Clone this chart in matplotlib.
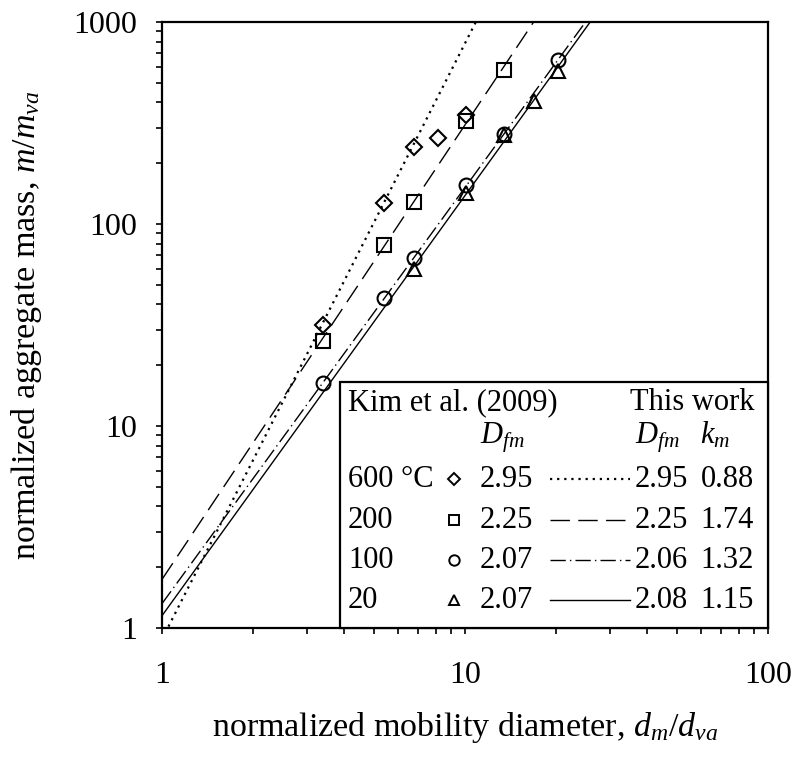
import numpy as np
import matplotlib
matplotlib.use('Agg')
import matplotlib.pyplot as plt
from matplotlib.lines import Line2D
from matplotlib.patches import Rectangle
from matplotlib.ticker import FuncFormatter, NullFormatter

plt.rcParams['font.family'] = 'Liberation Serif'
plt.rcParams['mathtext.fontset'] = 'custom'
plt.rcParams['mathtext.rm'] = 'Liberation Serif'
plt.rcParams['mathtext.it'] = 'Liberation Serif:italic'

# Kim et al. (2009) data
d_600 = [3.39, 5.42, 6.78, 8.13, 10.1]
m_600 = [31.5, 127, 240, 268, 345]
d_200 = [3.39, 5.42, 6.78, 10.1, 13.5]
m_200 = [26.5, 79, 129, 325, 580]
d_100 = [3.39, 5.42, 6.78, 10.1, 13.5, 20.3]
m_100 = [16.3, 42.8, 68, 156, 280, 650]
d_20 = [6.78, 10.1, 13.5, 16.9, 20.3]
m_20 = [60, 142, 275, 405, 575]

temps = ['600 °C', '200', '100', '20']
kim_dfm = ['2.95', '2.25', '2.07', '2.07']
fit_dfm = [2.95, 2.25, 2.06, 2.08]
fit_km = [0.88, 1.74, 1.32, 1.15]

markers = ['D', 's', 'o', '^']
msizes = [8, 9.5, 10, 10.5]
styles = [(0, (1, 2.2)), (0, (14, 6)), (0, (11, 3, 1, 3)), '-']
widths = [1.6, 1.0, 1.0, 1.0]

fig = plt.figure(figsize=(8, 7.65), dpi=100)
ax = fig.add_axes([162 / 800, 137 / 765, 606 / 800, 606 / 765])

d = np.logspace(0, 2, 400)
for D, k, ls, lw in zip(fit_dfm, fit_km, styles, widths):
    ax.plot(d, k * d ** D, color='black', linestyle=ls, linewidth=lw)

data = [(d_600, m_600), (d_200, m_200), (d_100, m_100), (d_20, m_20)]
for (xs, ys), mk, ms in zip(data, markers, msizes):
    ax.plot(xs, ys, linestyle='none', marker=mk, markersize=ms,
            markerfacecolor='none', markeredgecolor='black', markeredgewidth=1.5)

ax.set_xscale('log')
ax.set_yscale('log')
ax.set_xlim(1, 100)
ax.set_ylim(1, 1000)
fmt = FuncFormatter(lambda v, p: '%g' % v)
ax.xaxis.set_major_formatter(fmt)
ax.yaxis.set_major_formatter(fmt)
ax.xaxis.set_minor_formatter(NullFormatter())
ax.yaxis.set_minor_formatter(NullFormatter())
ax.tick_params(which='both', direction='out', labelsize=23, width=1.2, length=4)
ax.tick_params(axis='x', which='major', pad=20)
ax.tick_params(axis='y', which='major', pad=14)
for s in ax.spines.values():
    s.set_linewidth(1.6)

ax.set_xlabel('normalized mobility diameter, $d_m/d_{va}$', fontsize=24.5, labelpad=14)
ax.set_ylabel('normalized aggregate mass, $m/m_{va}$', fontsize=24.5, labelpad=21)

# table-style legend, laid out in pixel positions
W, H = 800, 765
def P(x, y):
    return x / W, 1 - y / H

box = Rectangle(P(340, 628), 428 / W, 246 / H, transform=fig.transFigure,
                facecolor='white', edgecolor='black', linewidth=1.6, zorder=5)
fig.add_artist(box)

fs = 22
fig.text(*P(348, 410), 'Kim et al. (2009)', fontsize=fs, va='baseline', zorder=6)
fig.text(*P(754, 410), 'This work', fontsize=fs, va='baseline', ha='right', zorder=6)
fig.text(*P(480, 443), '$D_{fm}$', fontsize=fs, va='baseline', zorder=6)
fig.text(*P(635, 443), '$D_{fm}$', fontsize=fs, va='baseline', zorder=6)
fig.text(*P(700, 443), '$k_m$', fontsize=fs, va='baseline', zorder=6)

rows = [487, 528, 568, 608]
for i, y in enumerate(rows):
    fig.text(*P(348, y), temps[i], fontsize=fs, va='baseline', zorder=6)
    fig.add_artist(Line2D([454 / W], [1 - (y - 8) / H], transform=fig.transFigure,
                          marker=markers[i], markersize=6.5 if markers[i] == 'D' else 7.5,
                          markerfacecolor='none', markeredgecolor='black',
                          markeredgewidth=1.4, linestyle='none', zorder=6))
    fig.text(*P(480, y), kim_dfm[i], fontsize=fs, va='baseline', zorder=6)
    fig.add_artist(Line2D([550 / W, 630 / W], [1 - (y - 8) / H] * 2,
                          transform=fig.transFigure, color='black',
                          linestyle=styles[i], linewidth=widths[i], zorder=6))
    fig.text(*P(635, y), '%.2f' % fit_dfm[i], fontsize=fs, va='baseline', zorder=6)
    fig.text(*P(754, y), '%.2f' % fit_km[i], fontsize=fs, va='baseline', ha='right', zorder=6)

fig.savefig('out.png', dpi=100)
